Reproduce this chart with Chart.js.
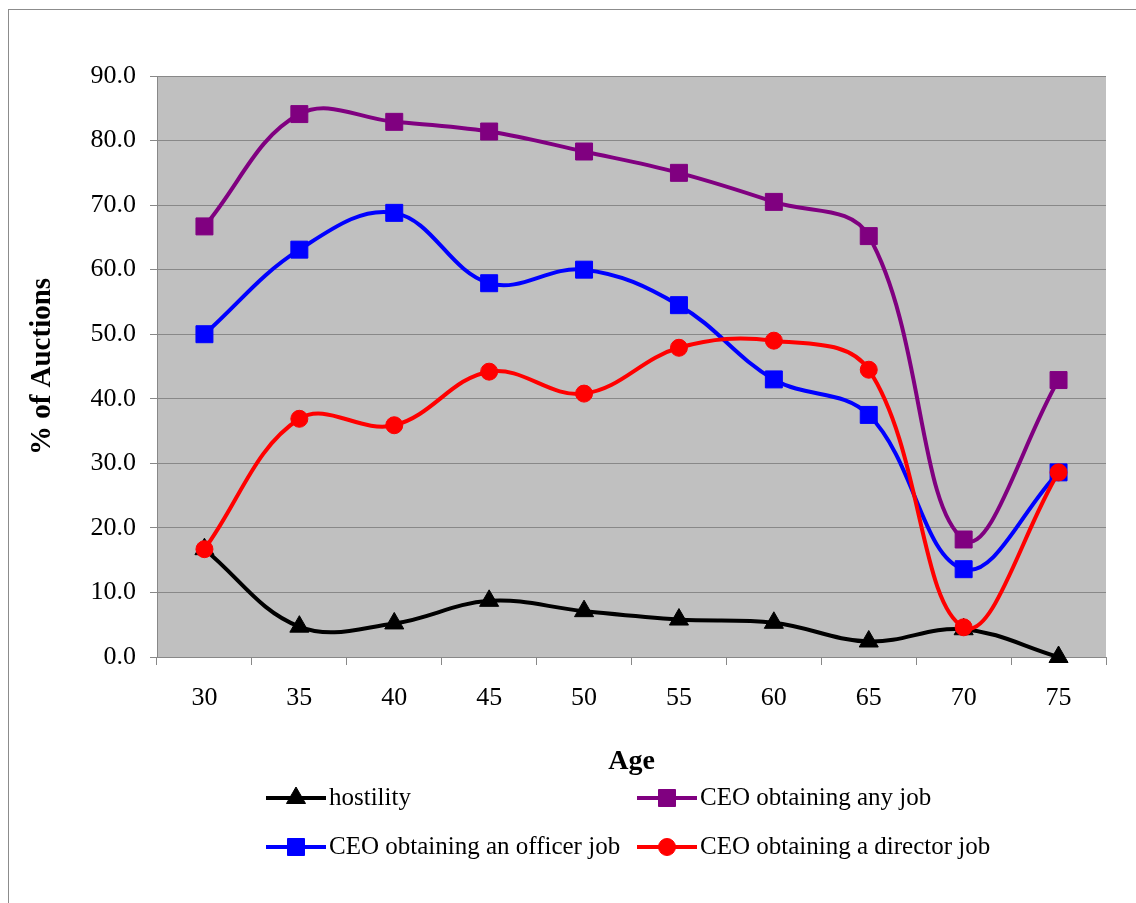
<!DOCTYPE html>
<html>
<head>
<meta charset="utf-8">
<script src="https://cdn.jsdelivr.net/npm/chart.js@4.4.0/dist/chart.umd.min.js"></script>
<style>
  html, body { margin: 0; padding: 0; background: #ffffff; }
  #wrap { position: relative; width: 1136px; height: 903px; overflow: hidden; }
  #frame { position: absolute; left: 8px; top: 9px; width: 2000px; height: 2000px;
           border-left: 1px solid #8c8c8c; border-top: 1px solid #8c8c8c; }
  #c { position: absolute; left: 0; top: 0; }
</style>
</head>
<body>
<div id="wrap">
  <div id="frame"></div>
  <canvas id="c" width="1136" height="903"></canvas>
</div>
<script>
// Age groups along the x axis
const ages = ['30', '35', '40', '45', '50', '55', '60', '65', '70', '75'];

// Percent of auctions per age group
const hostility   = [16.7, 4.7, 5.2, 8.7, 7.1, 5.8, 5.3, 2.4, 4.3, 0.0];
const anyJob      = [66.7, 84.1, 82.9, 81.4, 78.3, 75.0, 70.5, 65.2, 18.2, 42.9];
const officerJob  = [50.0, 63.1, 68.8, 57.9, 60.0, 54.5, 43.0, 37.5, 13.6, 28.6];
const directorJob = [16.7, 36.9, 35.9, 44.2, 40.8, 47.9, 49.0, 44.5, 4.6, 28.6];

// Y axis range
const yMin = 0, yMax = 90, yStep = 10;

const serif = "'Liberation Serif', 'Times New Roman', Times, serif";

// Grey plot area behind the grid
const plotBackground = {
  id: 'plotBackground',
  beforeDraw(chart) {
    const { ctx, chartArea: a } = chart;
    ctx.save();
    ctx.fillStyle = '#C0C0C0';
    ctx.fillRect(a.left, a.top, a.right - a.left, a.bottom - a.top);
    ctx.restore();
  }
};

// Two-column legend below the x axis title
const gridLegend = {
  id: 'gridLegend',
  afterDraw(chart, args, opts) {
    const ctx = chart.ctx;
    ctx.save();
    opts.items.forEach(item => {
      const ds = chart.data.datasets[item.index];
      const x0 = item.x, x1 = item.x + opts.lineLength, y = item.y;
      ctx.strokeStyle = ds.borderColor;
      ctx.lineWidth = ds.borderWidth;
      ctx.lineCap = 'butt';
      ctx.beginPath();
      ctx.moveTo(x0, y);
      ctx.lineTo(x1, y);
      ctx.stroke();
      ctx.fillStyle = ds.pointBackgroundColor;
      ctx.strokeStyle = ds.pointBorderColor;
      ctx.lineWidth = ds.pointBorderWidth;
      Chart.helpers.drawPoint(ctx, {
        pointStyle: ds.pointStyle,
        radius: ds.pointRadius,
        rotation: 0,
        borderWidth: ds.pointBorderWidth
      }, (x0 + x1) / 2, y);
      ctx.fillStyle = '#000000';
      ctx.font = opts.font;
      ctx.textAlign = 'left';
      ctx.textBaseline = 'middle';
      ctx.fillText(ds.label, x1 + 3, y);
    });
    ctx.restore();
  }
};

function series(label, data, color, style, radius, order) {
  return {
    label, data, order,
    borderColor: color,
    borderWidth: 4,
    tension: 0.38,
    fill: false,
    clip: false,
    pointStyle: style,
    pointRadius: radius,
    pointHoverRadius: radius,
    pointBackgroundColor: color,
    pointBorderColor: color,
    pointBorderWidth: 1
  };
}

new Chart(document.getElementById('c'), {
  type: 'line',
  data: {
    labels: ages,
    datasets: [
      series('hostility', hostility, '#000000', 'triangle', 11, 3),
      series('CEO obtaining any job', anyJob, '#800080', 'rect', 12, 2),
      series('CEO obtaining an officer job', officerJob, '#0000FF', 'rect', 12, 1),
      series('CEO obtaining a director job', directorJob, '#FF0000', 'circle', 8.5, 0)
    ]
  },
  options: {
    responsive: false,
    animation: false,
    devicePixelRatio: 1,
    layout: { padding: { left: 0, right: 30, top: 76, bottom: 123 } },
    plugins: {
      legend: { display: false },
      tooltip: { enabled: false },
      gridLegend: {
        lineLength: 60,
        font: '25px ' + serif,
        items: [
          { index: 0, x: 266, y: 798 },
          { index: 1, x: 637, y: 798 },
          { index: 2, x: 266, y: 847 },
          { index: 3, x: 637, y: 847 }
        ]
      }
    },
    scales: {
      x: {
        type: 'category',
        offset: true,
        afterFit(scale) { scale.height = 123; },
        grid: {
          offset: true,
          drawOnChartArea: false,
          drawTicks: true,
          tickLength: 8,
          color: '#888888'
        },
        border: { display: true, color: '#888888', width: 1 },
        ticks: {
          color: '#000000',
          padding: 18,
          maxRotation: 0,
          font: { family: serif, size: 26 }
        },
        title: {
          display: true,
          text: 'Age',
          color: '#000000',
          padding: { top: 0, bottom: 1 },
          font: { family: serif, size: 28, weight: 'bold' }
        }
      },
      y: {
        min: yMin,
        max: yMax,
        afterFit(scale) { scale.width = 157; },
        grid: {
          color: '#888888',
          lineWidth: 1,
          drawTicks: true,
          tickLength: 7,
        },
        border: { display: true, color: '#888888', width: 1 },
        ticks: {
          stepSize: yStep,
          color: '#000000',
          padding: 14,
          font: { family: serif, size: 26 },
          callback: v => Number(v).toFixed(1)
        },
        title: {
          display: true,
          text: '% of Auctions',
          color: '#000000',
          padding: { top: 25, bottom: 0 },
          font: { family: serif, size: 29, weight: 'bold' }
        }
      }
    }
  },
  plugins: [plotBackground, gridLegend]
});
</script>
</body>
</html>
